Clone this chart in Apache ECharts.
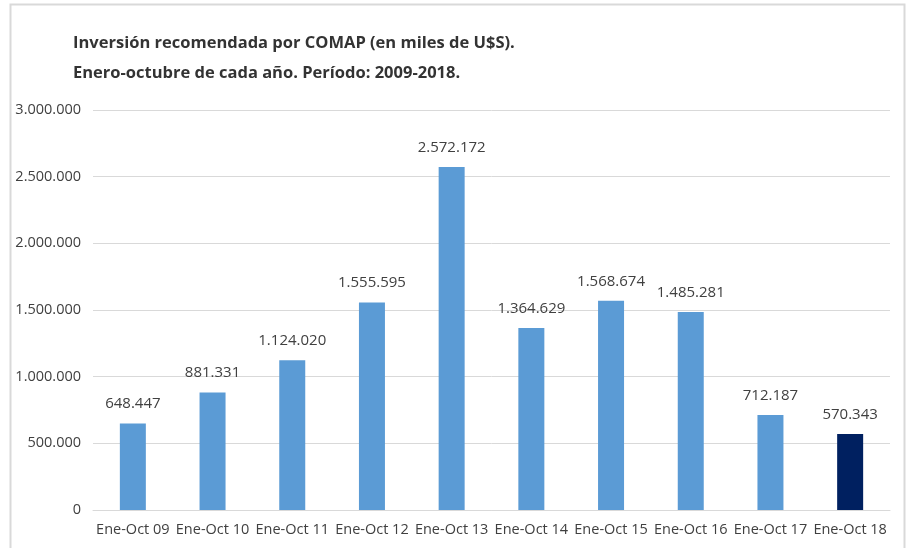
<!DOCTYPE html>
<html>
<head>
    <meta charset="utf-8">
    <title>COMAP</title>
    <script src="https://cdn.jsdelivr.net/npm/echarts@6/dist/echarts.min.js"></script>
    <style>
        html, body { margin: 0; padding: 0; background: #fff; }
    </style>
</head>
<body>
    <div id="main" style="width: 908px;height:548px;"></div>
    <script type="text/javascript">
    // datos
    var periodos = ['Ene-Oct 09', 'Ene-Oct 10', 'Ene-Oct 11', 'Ene-Oct 12', 'Ene-Oct 13',
                    'Ene-Oct 14', 'Ene-Oct 15', 'Ene-Oct 16', 'Ene-Oct 17', 'Ene-Oct 18'];
    var inversion = [648447, 881331, 1124020, 1555595, 2572172,
                     1364629, 1568674, 1485281, 712187, 570343];
    var colores = ['#5b9bd5', '#5b9bd5', '#5b9bd5', '#5b9bd5', '#5b9bd5',
                   '#5b9bd5', '#5b9bd5', '#5b9bd5', '#5b9bd5', '#002060'];

    var fuente = '"Open Sans", sans-serif';

    // miles con punto
    function fmt(v) {
        return String(v).replace(/\B(?=(\d{3})+(?!\d))/g, '.');
    }

    var datos = [];
    for (var i = 0; i < inversion.length; i++) {
        datos.push({ value: inversion[i], itemStyle: { color: colores[i] } });
    }

    var myChart = echarts.init(document.getElementById('main'));

    var option = {
        animation: false,
        backgroundColor: '#fff',
        title: {
            text: 'Inversión recomendada por COMAP (en miles de U$S).\nEnero-octubre de cada año. Período: 2009-2018.',
            left: 68,
            top: 23,
            textStyle: {
                fontFamily: fuente,
                fontSize: 16.5,
                fontWeight: 'bold',
                color: '#333',
                lineHeight: 30
            }
        },
        graphic: [{
            type: 'rect',
            shape: { x: 10.5, y: 4.5, width: 894, height: 600 },
            style: { fill: 'none', stroke: '#d9d9d9', lineWidth: 2 },
            silent: true
        }],
        grid: {
            left: 93,
            right: 18,
            top: 110,
            bottom: 38,
            containLabel: false
        },
        xAxis: {
            type: 'category',
            data: periodos,
            axisLine: { show: true, lineStyle: { color: '#d9d9d9' } },
            axisTick: { show: false },
            axisLabel: {
                fontFamily: fuente,
                fontSize: 14.5,
                color: '#404040',
                margin: 12,
                interval: 0
            }
        },
        yAxis: {
            type: 'value',
            min: 0,
            max: 3000000,
            interval: 500000,
            axisLine: { show: false },
            axisTick: { show: false },
            splitLine: { lineStyle: { color: '#d9d9d9' } },
            axisLabel: {
                fontFamily: fuente,
                fontSize: 14.5,
                color: '#404040',
                margin: 12,
                formatter: function (v) { return fmt(v); }
            }
        },
        series: [{
            type: 'bar',
            data: datos,
            barWidth: 26,
            label: {
                show: true,
                position: 'top',
                distance: 12,
                fontFamily: fuente,
                fontSize: 15,
                color: '#404040',
                formatter: function (p) { return fmt(p.value); }
            }
        }]
    };

    myChart.setOption(option);
    </script>
</body>
</html>
